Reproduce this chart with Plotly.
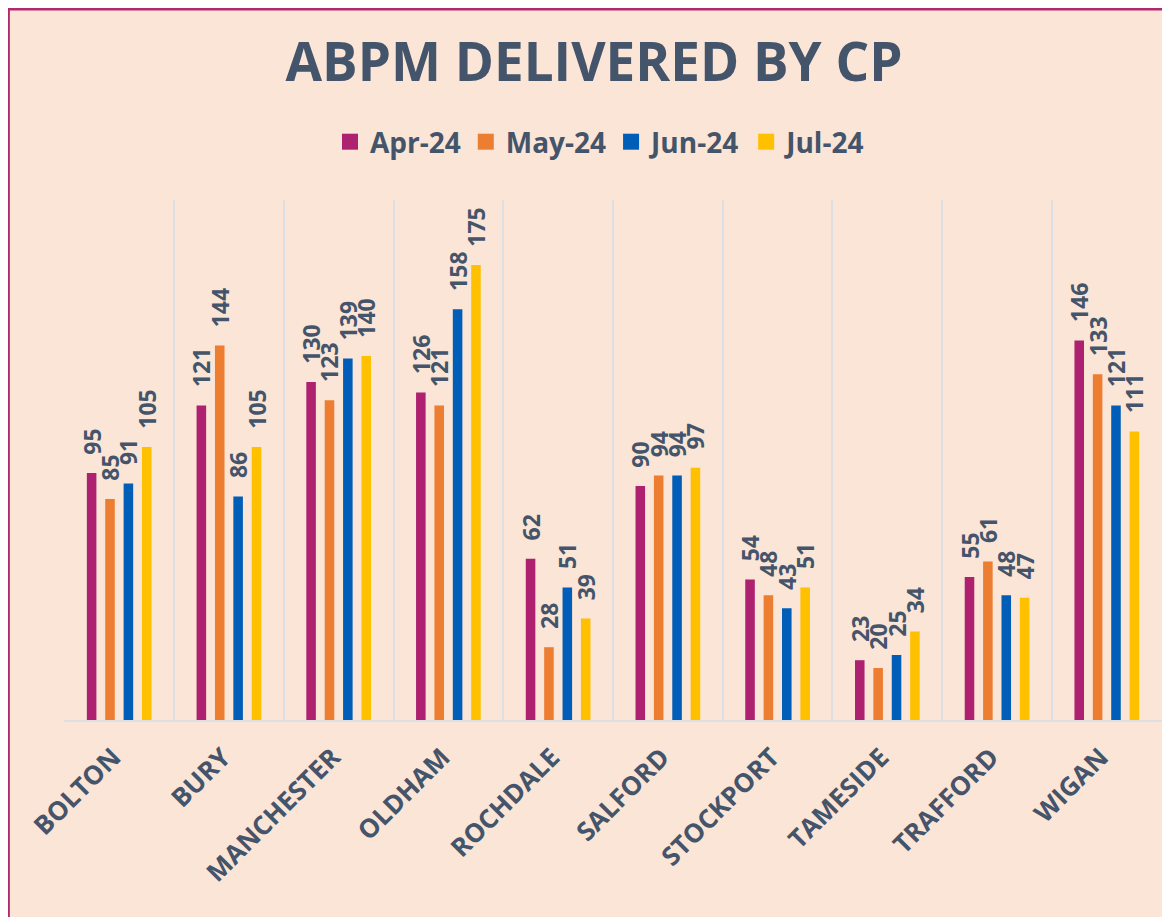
import plotly.graph_objects as go

categories = ["BOLTON", "BURY", "MANCHESTER", "OLDHAM", "ROCHDALE",
              "SALFORD", "STOCKPORT", "TAMESIDE", "TRAFFORD", "WIGAN"]
series_names = ["Apr-24", "May-24", "Jun-24", "Jul-24"]
apr_24 = [95, 121, 130, 126, 62, 90, 54, 23, 55, 146]
may_24 = [85, 144, 123, 121, 28, 94, 48, 20, 61, 133]
jun_24 = [91, 86, 139, 158, 51, 94, 43, 25, 48, 121]
jul_24 = [105, 105, 140, 175, 39, 97, 51, 34, 47, 111]
series_values = [apr_24, may_24, jun_24, jul_24]
colors = ["#AD2170", "#ED7D31", "#005EB8", "#FFC000"]

# the html page adds an 8px body margin, so the figure is made 8px smaller
OFF = 8
W, H = 1170 - OFF, 917 - OFF
L, R, T, B = 64 - OFF, 8, 200 - OFF, 197
PW, PH = W - L - R, H - T - B
TEXT = "#44546A"
FONT = "Open Sans"


def px_x(p):
    return (p - OFF - L) / PW


def px_y(p):
    return (H - B - (p - OFF)) / PH


fig = go.Figure()
for name, vals, col in zip(series_names, series_values, colors):
    fig.add_trace(go.Bar(
        x=categories, y=vals, name=name, showlegend=False,
        marker=dict(color=col, line=dict(width=0)),
        text=[str(v) for v in vals], texttemplate="\u2002\u2009%{text}",
        textposition="outside",
        textangle=-90, constraintext="none", cliponaxis=False,
        textfont=dict(family=FONT, size=23, color=TEXT, weight="bold"),
    ))
# legend entries (larger square swatches)
for name, col in zip(series_names, colors):
    fig.add_trace(go.Scatter(
        x=[None], y=[None], mode="markers", name=name,
        marker=dict(symbol="square", size=16, color=col),
    ))

fig.update_layout(
    width=W, height=H,
    margin=dict(l=L, r=R, t=T, b=B, pad=0),
    paper_bgcolor="#FFFFFF", plot_bgcolor="rgba(0,0,0,0)",
    barmode="group", bargap=0.33, bargroupgap=0.48,
    title=dict(text="<b>ABPM DELIVERED BY CP</b>", xref="container",
               x=(594 - OFF) / W, xanchor="center",
               y=1 - (62 - OFF) / H, yanchor="middle",
               font=dict(family=FONT, size=53, color=TEXT)),
    legend=dict(orientation="h", xref="paper", x=px_x(601), xanchor="center",
                yref="paper", y=px_y(142), yanchor="middle",
                font=dict(family=FONT, size=28, color=TEXT, weight="bold"),
                bgcolor="rgba(0,0,0,0)", itemwidth=30, itemsizing="trace"),
    xaxis=dict(tickson="boundaries", showgrid=True, gridcolor="#DCE0E4",
               gridwidth=1.5, showline=True, linecolor="#DCE0E4", linewidth=1.5,
               ticks="outside", ticklen=44, tickcolor="rgba(0,0,0,0)",
               ticklabelshift=-6, ticklabelstandoff=10,
               tickangle=-45, range=[-0.503, 9.503],
               tickfont=dict(family=FONT, size=26, color=TEXT, weight="bold")),
    yaxis=dict(visible=False, range=[0, 200], showgrid=False, zeroline=False),
    shapes=[dict(type="rect", xref="paper", yref="paper",
                 x0=px_x(OFF + 0.6), x1=px_x(1185), y0=px_y(OFF + 1.25),
                 y1=px_y(935),
                 fillcolor="#FBE5D6", line=dict(color="#B0296F", width=2.5),
                 layer="below")],
)

fig.write_html("out.html")
